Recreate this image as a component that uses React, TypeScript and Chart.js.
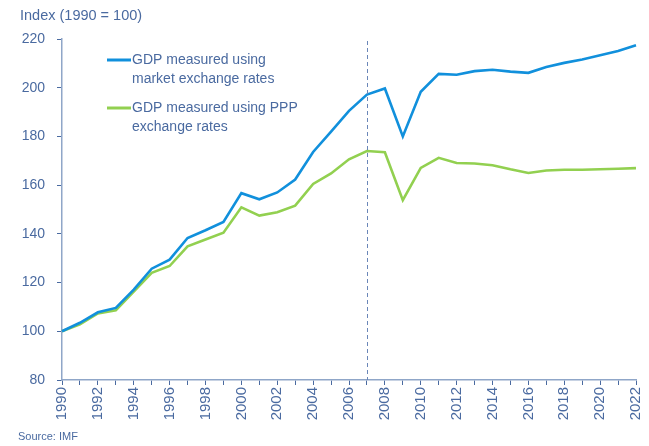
import React, { useEffect, useRef } from "react";
import { Chart, registerables } from "chart.js";

Chart.register(...registerables);

const years = [
  "1990", "1991", "1992", "1993", "1994", "1995", "1996", "1997", "1998", "1999",
  "2000", "2001", "2002", "2003", "2004", "2005", "2006", "2007", "2008", "2009",
  "2010", "2011", "2012", "2013", "2014", "2015", "2016", "2017", "2018", "2019",
  "2020", "2021", "2022",
];

const marketRates = [
  100, 103.5, 107.8, 109.6, 117.1, 125.7, 129.4, 138.3, 141.5, 144.9,
  156.7, 154.2, 157, 162.3, 173.6, 182, 190.5, 197.2, 199.7, 180,
  198.3, 205.7, 205.3, 206.8, 207.4, 206.6, 206.1, 208.5, 210.2, 211.6,
  213.3, 215.1, 217.4,
];

const pppRates = [
  100, 102.9, 107.3, 108.6, 116.3, 124, 126.8, 134.9, 137.7, 140.5,
  150.9, 147.5, 148.9, 151.6, 160.5, 164.8, 170.6, 174, 173.5, 153.8,
  167.1, 171.2, 169.1, 168.9, 168.2, 166.5, 165, 166, 166.3, 166.3,
  166.5, 166.7, 167,
];

const marketLabel = ["GDP measured using", "market exchange rates"];
const pppLabel = ["GDP measured using PPP", "exchange rates"];
const markerYear = "2007";
const yMin = 80;
const yMax = 220;
const yStep = 20;
const yTitle = "Index (1990 = 100)";
const sourceText = "Source: IMF";

const TEXT = "#4a6aa0";
const AXIS = "#8fa6c8";
const BLUE = "#1190dc";
const GREEN = "#92d050";
const FONT = "'Liberation Sans', Arial, sans-serif";

const markerPlugin = {
  id: "markerLine",
  afterDatasetsDraw(chart: any) {
    const x = chart.scales.x.getPixelForValue(years.indexOf(markerYear));
    const { top, bottom } = chart.chartArea;
    const ctx = chart.ctx;
    ctx.save();
    ctx.strokeStyle = "#6a86b8";
    ctx.lineWidth = 1;
    ctx.setLineDash([4, 3]);
    ctx.beginPath();
    ctx.moveTo(Math.round(x) + 0.5, top + 2);
    ctx.lineTo(Math.round(x) + 0.5, bottom);
    ctx.stroke();
    ctx.restore();
  },
};

const legendPlugin = {
  id: "innerLegend",
  afterDraw(chart: any) {
    const ctx = chart.ctx;
    const items = [
      { lines: marketLabel, color: BLUE, y: 60 },
      { lines: pppLabel, color: GREEN, y: 108 },
    ];
    ctx.save();
    ctx.font = `14px ${FONT}`;
    ctx.textBaseline = "middle";
    ctx.fillStyle = TEXT;
    items.forEach((it) => {
      ctx.strokeStyle = it.color;
      ctx.lineWidth = 3;
      ctx.beginPath();
      ctx.moveTo(107, it.y);
      ctx.lineTo(131, it.y);
      ctx.stroke();
      it.lines.forEach((l, i) => {
        ctx.fillText(l, 132, it.y + i * 19);
      });
    });
    ctx.restore();
  },
};

export default function App() {
  const ref = useRef<HTMLCanvasElement>(null);

  useEffect(() => {
    document.body.style.margin = "0";
    const chart = new Chart(ref.current!, {
      type: "line",
      data: {
        labels: years,
        datasets: [
          {
            label: marketLabel.join(" "),
            data: marketRates,
            borderColor: BLUE,
            backgroundColor: BLUE,
            borderWidth: 2.6,
            pointRadius: 0,
            tension: 0,
          },
          {
            label: pppLabel.join(" "),
            data: pppRates,
            borderColor: GREEN,
            backgroundColor: GREEN,
            borderWidth: 2.6,
            pointRadius: 0,
            tension: 0,
          },
        ],
      },
      options: {
        responsive: false,
        animation: false,
        devicePixelRatio: 1,
        layout: { padding: { top: 39, right: 13, bottom: 0, left: 0 } },
        plugins: {
          legend: { display: false },
          tooltip: { enabled: false },
        },
        scales: {
          x: {
            type: "category",
            offset: false,
            afterFit: (s: any) => {
              s.height = 66;
              s.paddingLeft = 0;
              s.paddingRight = 0;
            },
            grid: {
              drawOnChartArea: false,
              drawTicks: true,
              tickLength: 5,
              color: TEXT,
            },
            border: { color: AXIS, width: 1.5 },
            ticks: {
              autoSkip: false,
              minRotation: 90,
              maxRotation: 90,
              padding: 2,
              color: TEXT,
              font: { family: FONT, size: 15 },
              callback: (_v: any, i: number) => (Number(years[i]) % 2 === 0 ? years[i] : ""),
            },
          },
          y: {
            min: yMin,
            max: yMax,
            afterFit: (s: any) => {
              s.width = 62;
              s.paddingTop = 0;
              s.paddingBottom = 0;
            },
            grid: {
              drawOnChartArea: false,
              drawTicks: true,
              tickLength: 5,
              color: TEXT,
            },
            border: { color: AXIS, width: 1.5 },
            ticks: {
              stepSize: yStep,
              padding: 12,
              color: TEXT,
              font: { family: FONT, size: 14 },
            },
          },
        },
      },
      plugins: [markerPlugin, legendPlugin],
    } as any);
    return () => chart.destroy();
  }, []);

  return (
    <div style={{ position: "relative", width: 649, height: 446, fontFamily: FONT, color: TEXT }}>
      <canvas ref={ref} width={649} height={446} style={{ position: "absolute", left: 0, top: 0 }} />
      <div style={{ position: "absolute", left: 20, top: 7, fontSize: 14.5, whiteSpace: "nowrap" }}>{yTitle}</div>
      <div style={{ position: "absolute", left: 18, top: 430, fontSize: 11, whiteSpace: "nowrap" }}>{sourceText}</div>
    </div>
  );
}
